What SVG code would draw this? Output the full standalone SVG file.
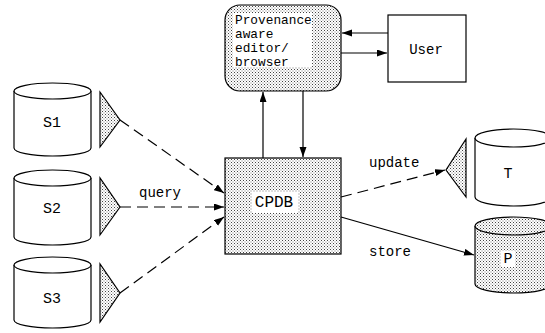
<svg xmlns="http://www.w3.org/2000/svg" width="545" height="333" viewBox="0 0 545 333">
<defs>
<pattern id="dots" width="3" height="3" patternUnits="userSpaceOnUse">
<rect width="3" height="3" fill="#fff"/>
<rect x="0" y="0" width="1" height="1" fill="#444"/>
<rect x="1.5" y="1.5" width="1" height="1" fill="#777"/>
</pattern>
<marker id="ah" markerUnits="userSpaceOnUse" markerWidth="11" markerHeight="8" refX="10" refY="3.5" orient="auto">
<path d="M0,0 L10,3.5 L0,7 z" fill="#000"/>
</marker>
</defs>
<style>
.ln{stroke:#000;stroke-width:1.2;fill:none}
.sh{stroke:#000;stroke-width:1.2}
.dash{stroke-dasharray:11 6}
.t{font-family:"Liberation Mono","DejaVu Sans Mono",monospace;fill:#000}
.dot{fill:url(#dots)}
.wh{fill:#fff}
</style>
<g id="connectors">
<line class="ln" x1="263" y1="158" x2="263" y2="92" marker-end="url(#ah)"/>
<line class="ln" x1="303" y1="91" x2="303" y2="157" marker-end="url(#ah)"/>
<line class="ln" x1="388" y1="33" x2="342" y2="33" marker-end="url(#ah)"/>
<line class="ln" x1="341" y1="53" x2="387" y2="53" marker-end="url(#ah)"/>
<line class="ln dash" x1="120" y1="120" x2="224" y2="193" marker-end="url(#ah)"/>
<line class="ln dash" x1="120" y1="207" x2="224" y2="207" marker-end="url(#ah)"/>
<line class="ln dash" x1="120" y1="293" x2="224" y2="217" marker-end="url(#ah)"/>
<line class="ln dash" x1="341" y1="197" x2="445" y2="170" marker-end="url(#ah)"/>
<line class="ln" x1="341" y1="217" x2="474" y2="255" marker-end="url(#ah)"/>
<text class="t" x="139" y="197" font-size="14">query</text>
<text class="t" x="369" y="167" font-size="14">update</text>
<text class="t" x="369" y="256" font-size="14">store</text>
</g>
<g id="editor">
<rect class="sh dot" x="225" y="5" width="116" height="86" rx="15" ry="15"/>
<rect class="wh" x="233" y="13" width="79" height="54"/>
<text class="t" font-size="12.8"><tspan x="235" y="24">Provenance</tspan><tspan x="235" y="38">aware</tspan><tspan x="235" y="52">editor/</tspan><tspan x="235" y="66">browser</tspan></text>
</g>
<g id="user">
<rect class="sh" fill="#fff" x="388" y="15" width="78" height="67"/>
<text class="t" x="426" y="54" font-size="14" text-anchor="middle">User</text>
</g>
<g id="cpdb">
<rect class="sh dot" x="225" y="158" width="116" height="96"/>
<rect class="wh" x="252" y="192" width="46" height="21"/>
<text class="t" x="274" y="207" font-size="16" text-anchor="middle">CPDB</text>
</g>
<g id="s1">
<path class="sh" fill="#fff" d="M14,91 L14,148 A38.5,8 0 0 0 91,148 L91,91"/>
<ellipse class="sh" fill="#fff" cx="52.5" cy="91" rx="38.5" ry="8"/>
<text class="t" x="52" y="127" font-size="15" text-anchor="middle">S1</text>
<polygon class="sh dot" points="100,92 100,147 120,120"/>
</g>
<g id="s2">
<path class="sh" fill="#fff" d="M14,178 L14,237 A38.5,8 0 0 0 91,237 L91,178"/>
<ellipse class="sh" fill="#fff" cx="52.5" cy="178" rx="38.5" ry="8"/>
<text class="t" x="52" y="213" font-size="15" text-anchor="middle">S2</text>
<polygon class="sh dot" points="100,178 100,235 120,207"/>
</g>
<g id="s3">
<path class="sh" fill="#fff" d="M14,265 L14,320 A38.5,8 0 0 0 91,320 L91,265"/>
<ellipse class="sh" fill="#fff" cx="52.5" cy="265" rx="38.5" ry="8"/>
<text class="t" x="52" y="303" font-size="15" text-anchor="middle">S3</text>
<polygon class="sh dot" points="100,264 100,322 120,293"/>
</g>
<g id="t">
<path class="sh" fill="#fff" d="M475,138 L475,197 A38.5,9 0 0 0 552,197 L552,138"/>
<ellipse class="sh" fill="#fff" cx="513.5" cy="138" rx="38.5" ry="9"/>
<text class="t" x="508" y="178" font-size="15" text-anchor="middle">T</text>
<polygon class="sh dot" points="466,139 466,197 446,170"/>
</g>
<g id="p">
<path class="sh dot" d="M475,226 L475,284 A38.5,9 0 0 0 552,284 L552,226"/>
<ellipse class="sh dot" cx="513.5" cy="226" rx="38.5" ry="9"/>
<rect class="wh" x="501" y="251" width="14" height="16"/>
<text class="t" x="508" y="263" font-size="15" text-anchor="middle">P</text>
</g>
</svg>
